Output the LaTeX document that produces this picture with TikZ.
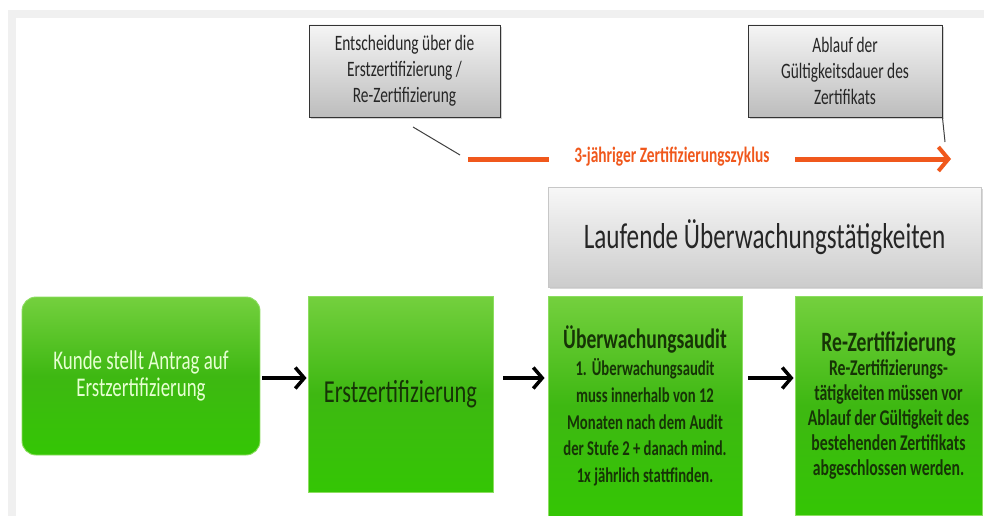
\documentclass[tikz,border=0pt]{standalone}
\usepackage{fontspec}
\setmainfont{Carlito}[FakeStretch=0.70]
\usetikzlibrary{shadows,arrows.meta}
\definecolor{orng}{RGB}{240,88,28}
\definecolor{gtop}{RGB}{116,208,62}
\definecolor{gmid}{RGB}{62,184,18}
\definecolor{gbot}{RGB}{52,198,4}
\definecolor{gedge}{RGB}{140,222,96}
\definecolor{dgreen}{RGB}{22,52,6}
\definecolor{pale}{RGB}{230,255,210}
\definecolor{frame}{RGB}{240,240,240}
\tikzset{
  greybox/.style={draw=black!80, line width=0.9pt, top color=black!4, bottom color=black!26,
    drop shadow={opacity=0.35, shadow xshift=2pt, shadow yshift=-2pt}, inner sep=0pt, align=center,
    font=\fontsize{22}{26}\selectfont, text=black!85},
  bigbox/.style={draw=black!22, line width=0.8pt, top color=black!3, bottom color=black!20,
    drop shadow={opacity=0.3, shadow xshift=2pt, shadow yshift=-2pt}, inner sep=0pt,
    font=\fontsize{36}{40}\selectfont, text=black!85},
  greenbox/.style={draw=gedge, line width=0.9pt, top color=gtop, bottom color=gbot, middle color=gmid,
    inner sep=0pt, align=center},
  flowarrow/.style={line width=4.5pt, black, -{Straight Barb[length=9pt,width=21pt,line width=3.5pt]}},
  cyclearrow/.style={line width=5pt, orng},
  callline/.style={line width=1pt, black!75}
}
\begin{document}
\begin{tikzpicture}[x=1pt,y=-1pt]
\useasboundingbox (0,0) rectangle (984,516);
\fill[white] (0,0) rectangle (984,516);
\draw[frame, line width=8pt] (12,530) |- (1000,14);

% top callouts
\node[greybox, minimum width=191pt, minimum height=92pt] (dec) at (404.5,71)
  {Entscheidung über die\\Erstzertifizierung /\\Re-Zertifizierung};
\node[greybox, minimum width=194pt, minimum height=92pt] (exp) at (845,71)
  {Ablauf der\\Gültigkeitsdauer des\\Zertifikats};
\coordinate (deca) at (413,127);
\coordinate (decb) at (460,155);
\coordinate (expb) at (945,142);
\draw[callline] (deca) -- (decb);
\draw[callline] (exp.south east) -- (expb);

% cycle arrow
\node[text=orng, font=\fontsize{22}{24}\selectfont\bfseries, inner sep=0pt] (cyc) at (672,157)
  {3-jähriger Zertifizierungszyklus};
\coordinate (cycs) at (468,159);
\coordinate (cyce) at (951,159);
\draw[cyclearrow] (cycs) -- ([xshift=-25pt]cyc.west |- cycs);
\draw[cyclearrow, -{Straight Barb[length=10pt,width=24pt,line width=4pt]}] ([xshift=25pt]cyc.east |- cycs) -- (cyce);

% ongoing surveillance
\node[bigbox, minimum width=433pt, minimum height=100pt] (lauf) at (764.5,237)
  {Laufende Überwachungstätigkeiten};

% green process boxes
\node[greenbox, rounded corners=14pt, minimum width=238pt, minimum height=158pt, text=pale,
  font=\fontsize{27}{27}\selectfont] (kunde) at (141,376)
  {Kunde stellt Antrag auf\\Erstzertifizierung};
\node[greenbox, minimum width=185pt, minimum height=196pt, text=dgreen,
  font=\fontsize{32}{36}\selectfont] (erst) at (400.5,394) {Erstzertifizierung};
\node[greenbox, minimum width=194pt, minimum height=220pt, text=dgreen, text width=190pt] (ueb) at (645,406)
  {{\fontsize{28}{32}\selectfont\bfseries Überwachungsaudit\par}
   {\fontsize{21}{26.8}\selectfont\bfseries 1. Überwachungsaudit\\muss innerhalb von 12\\Monaten nach dem Audit\\der Stufe 2 + danach mind.\\1x jährlich stattfinden.\par}};
\node[greenbox, minimum width=187pt, minimum height=219pt, text=dgreen, text width=185pt] (rez) at (888.5,405.5)
  {{\fontsize{28}{32}\selectfont\bfseries Re-Zertifizierung\par}\vspace{-1pt}
   {\fontsize{22.5}{25}\selectfont\bfseries Re-Zertifizierungs-\\tätigkeiten müssen vor\\Ablauf der Gültigkeit des\\bestehenden Zertifikats\\abgeschlossen werden.\par}};

% flow arrows
\coordinate (row) at (0,378);
\draw[flowarrow, shorten <=2pt, shorten >=1pt] (kunde.east |- row) -- (erst.west |- row);
\draw[flowarrow, shorten <=10pt, shorten >=3pt] (erst.east |- row) -- (ueb.west |- row);
\draw[flowarrow, shorten <=6pt, shorten >=1pt] (ueb.east |- row) -- (rez.west |- row);
\end{tikzpicture}
\end{document}
